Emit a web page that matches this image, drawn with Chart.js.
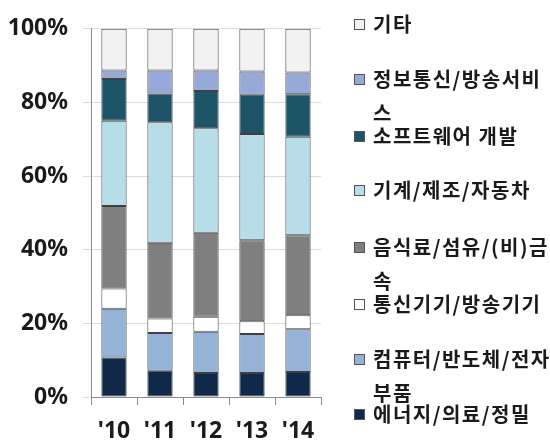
<!DOCTYPE html>
<html>
<head>
<meta charset="utf-8">
<script src="https://cdn.jsdelivr.net/npm/chart.js@4"></script>
<style>
  body { margin: 0; background: #fff; width: 550px; height: 446px; overflow: hidden; position: relative; }
  #wrap { position: absolute; left: 0; top: 0; width: 330px; height: 446px; }
  #legend { position: absolute; left: 0; top: 0; width: 550px; height: 446px; pointer-events: none; }
  .item { position: absolute; left: 354px; width: 196px; font-family: "Noto Sans CJK KR", sans-serif; font-weight: bold;
          font-size: 20px; line-height: 34px; letter-spacing: 1.5px; color: #1a1a1a; }
  .box { position: absolute; left: 0; top: 12px; width: 11px; height: 11px; border: 1px solid #555; box-sizing: border-box; }
  .txt { position: absolute; left: 19px; width: 180px; word-break: break-all; }
</style>
</head>
<body>
<div id="wrap"><canvas id="myChart"></canvas></div>
<div id="legend"></div>
<script>
const years = ["'10", "'11", "'12", "'13", "'14"];
const seriesNames = ["에너지/의료/정밀", "컴퓨터/반도체/전자부품", "통신기기/방송기기", "음식료/섬유/(비)금속",
                     "기계/제조/자동차", "소프트웨어 개발", "정보통신/방송서비스", "기타"];
const energy   = [10.7, 7.1, 6.5, 6.5, 6.8];
const computer = [13.3, 10.3, 11.2, 10.6, 11.6];
const telecom  = [5.5, 3.9, 4.1, 3.5, 3.8];
const food     = [22.4, 20.6, 22.8, 22.0, 21.7];
const machine  = [23.1, 32.7, 28.4, 28.8, 26.8];
const software = [11.4, 7.8, 10.1, 10.7, 11.5];
const infoComm = [2.3, 6.3, 5.6, 6.3, 5.9];
const etc      = [11.3, 11.3, 11.3, 11.6, 11.9];
const yTicks = [0, 20, 40, 60, 80, 100];

const seriesValues = [energy, computer, telecom, food, machine, software, infoComm, etc];
const colors = ['#10284a', '#95b3d7', '#ffffff', '#7f7f7f', '#b7dee8', '#1d5468', '#96a9d8', '#f2f2f2'];
// centre of each legend entry's first line
const legendTops = [412, 357, 302, 245, 188, 134, 77, 22];

const datasets = seriesNames.map(function(name, i) {
    return {
        label: name,
        data: seriesValues[i],
        backgroundColor: colors[i],
        borderColor: '#404040',
        borderWidth: 1,
        borderSkipped: false
    };
});

const canvas = document.getElementById('myChart');
canvas.width = 330;
canvas.height = 446;

const tickFont = { family: "'Noto Sans', sans-serif", size: 23, weight: 'bold' };

new Chart(canvas, {
    type: 'bar',
    data: { labels: years, datasets: datasets },
    options: {
        responsive: false,
        animation: false,
        layout: { padding: { top: 21, right: 9, left: 0, bottom: 0 } },
        datasets: { bar: { categoryPercentage: 1, barPercentage: 0.55 } },
        plugins: { legend: { display: false }, tooltip: { enabled: false } },
        scales: {
            x: {
                stacked: true,
                afterFit: function(s) { s.height = 49; },
                grid: { drawOnChartArea: false, color: '#8c8c8c', tickLength: 8, offset: true },
                border: { color: '#8c8c8c' },
                ticks: { color: '#1a1a1a', font: tickFont, padding: 13 }
            },
            y: {
                stacked: true,
                min: 0,
                max: 100,
                afterFit: function(s) { s.width = 91; },
                afterBuildTicks: function(s) { s.ticks = yTicks.map(function(v) { return { value: v }; }); },
                grid: { color: '#dcdcdc', tickLength: 8 },
                border: { color: '#8c8c8c' },
                ticks: { color: '#1a1a1a', font: tickFont, padding: 15, callback: function(v) { return v + '%'; } }
            }
        }
    }
});

const legend = document.getElementById('legend');
seriesNames.forEach(function(name, i) {
    const item = document.createElement('div');
    item.className = 'item';
    item.style.top = (legendTops[i] - 15) + 'px';
    item.innerHTML = '<div class="box" style="background:' + colors[i] + '"></div><div class="txt"></div>';
    item.querySelector('.txt').textContent = name;
    legend.appendChild(item);
});
</script>
</body>
</html>
